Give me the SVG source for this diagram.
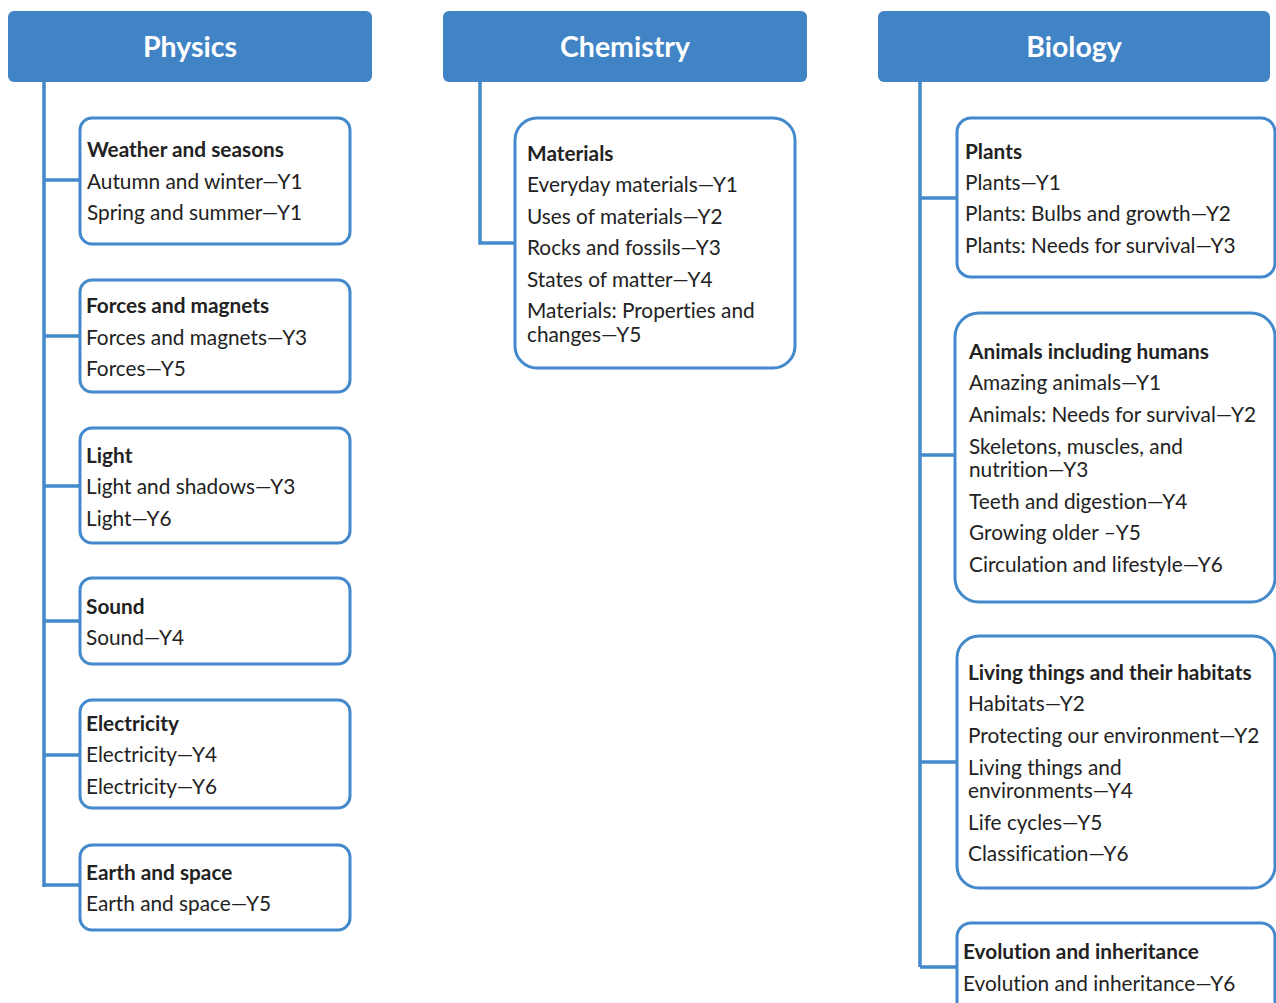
<svg xmlns="http://www.w3.org/2000/svg" width="1276" height="1003" viewBox="0 0 1276 1003">
<style>
.hdr{fill:#4084c6}
.ht{fill:#fff;font-family:Lato,"Open Sans",sans-serif;font-weight:bold;font-size:28.5px;text-anchor:middle}
.box{fill:#fff;stroke:#4389cb;stroke-width:3}
.ln{fill:none;stroke:#4389cb;stroke-width:3.5}
text.t{font-family:Lato,"Liberation Sans",sans-serif;font-size:20.8px;fill:#222;font-variant-ligatures:none}
.b{font-weight:bold}
</style>
<rect width="1276" height="1003" fill="#fff"/>
<g id="connectors">
<path class="ln" d="M44 82 V887 M44 180 H80 M44 336 H80 M44 486 H80 M44 621 H80 M44 755 H80 M44 885 H80"/>
<path class="ln" d="M480 82 V243 H515"/>
<path class="ln" d="M920 82 V967 M920 198 H957 M920 455 H955 M920 762 H957 M920 967 H957"/>
</g>
<g id="physics"><rect class="hdr" x="8" y="11" width="364" height="71" rx="6"/><text class="ht" x="190" y="57">Physics</text></g>
<g id="chemistry"><rect class="hdr" x="443" y="11" width="364" height="71" rx="6"/><text class="ht" x="625" y="57">Chemistry</text></g>
<g id="biology"><rect class="hdr" x="878" y="11" width="392" height="71" rx="6"/><text class="ht" x="1074" y="57">Biology</text></g>

<g id="weather"><rect class="box" x="80" y="118" width="270" height="126" rx="12"/>
<text class="t" x="87"><tspan class="b" y="157">Weather and seasons</tspan><tspan x="87" y="189">Autumn and winter—Y1</tspan><tspan x="87" y="220">Spring and summer—Y1</tspan></text></g>
<g id="forces"><rect class="box" x="80" y="280" width="270" height="112" rx="12"/>
<text class="t" x="86"><tspan class="b" y="313">Forces and magnets</tspan><tspan x="86" y="345">Forces and magnets—Y3</tspan><tspan x="86" y="376">Forces—Y5</tspan></text></g>
<g id="light"><rect class="box" x="80" y="428" width="270" height="115" rx="12"/>
<text class="t" x="86"><tspan class="b" y="463">Light</tspan><tspan x="86" y="494">Light and shadows—Y3</tspan><tspan x="86" y="526">Light—Y6</tspan></text></g>
<g id="sound"><rect class="box" x="80" y="578" width="270" height="86" rx="12"/>
<text class="t" x="86"><tspan class="b" y="614">Sound</tspan><tspan x="86" y="645">Sound—Y4</tspan></text></g>
<g id="electricity"><rect class="box" x="80" y="700" width="270" height="108" rx="12"/>
<text class="t" x="86"><tspan class="b" y="731">Electricity</tspan><tspan x="86" y="762">Electricity—Y4</tspan><tspan x="86" y="794">Electricity—Y6</tspan></text></g>
<g id="earth"><rect class="box" x="80" y="845" width="270" height="85" rx="12"/>
<text class="t" x="86"><tspan class="b" y="880">Earth and space</tspan><tspan x="86" y="911">Earth and space—Y5</tspan></text></g>

<g id="materials"><rect class="box" x="515" y="118" width="280" height="250" rx="22"/>
<text class="t" x="527"><tspan class="b" y="161">Materials</tspan><tspan x="527" y="192">Everyday materials—Y1</tspan><tspan x="527" y="224">Uses of materials—Y2</tspan><tspan x="527" y="255">Rocks and fossils—Y3</tspan><tspan x="527" y="287">States of matter—Y4</tspan><tspan x="527" y="318">Materials: Properties and</tspan><tspan x="527" y="342">changes—Y5</tspan></text></g>

<g id="plants"><rect class="box" x="957" y="118" width="318" height="159" rx="14"/>
<text class="t" x="965"><tspan class="b" y="159">Plants</tspan><tspan x="965" y="190">Plants—Y1</tspan><tspan x="965" y="221">Plants: Bulbs and growth—Y2</tspan><tspan x="965" y="253">Plants: Needs for survival—Y3</tspan></text></g>
<g id="animals"><rect class="box" x="955" y="313" width="320" height="289" rx="24"/>
<text class="t" x="969"><tspan class="b" y="359">Animals including humans</tspan><tspan x="969" y="390">Amazing animals—Y1</tspan><tspan x="969" y="422">Animals: Needs for survival—Y2</tspan><tspan x="969" y="454">Skeletons, muscles, and</tspan><tspan x="969" y="477">nutrition—Y3</tspan><tspan x="969" y="509">Teeth and digestion—Y4</tspan><tspan x="969" y="540">Growing older –Y5</tspan><tspan x="969" y="572">Circulation and lifestyle—Y6</tspan></text></g>
<g id="living"><rect class="box" x="957" y="636" width="318" height="252" rx="22"/>
<text class="t" x="968"><tspan class="b" y="680">Living things and their habitats</tspan><tspan x="968" y="711">Habitats—Y2</tspan><tspan x="968" y="743">Protecting our environment—Y2</tspan><tspan x="968" y="775">Living things and</tspan><tspan x="968" y="798">environments—Y4</tspan><tspan x="968" y="830">Life cycles—Y5</tspan><tspan x="968" y="861">Classification—Y6</tspan></text></g>
<g id="evolution"><rect class="box" x="957" y="923" width="318" height="110" rx="14"/>
<text class="t" x="963"><tspan class="b" y="959">Evolution and inheritance</tspan><tspan x="963" y="991">Evolution and inheritance—Y6</tspan></text></g>
</svg>
